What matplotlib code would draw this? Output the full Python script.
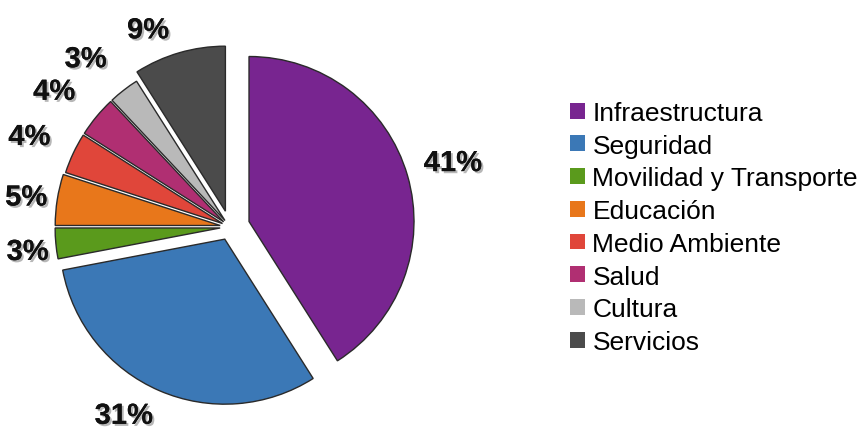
"""Pie chart of budget share by sector, with legend on the right."""
import matplotlib
matplotlib.use("Agg")
import matplotlib.pyplot as plt
import matplotlib.patheffects as pe
from matplotlib.patches import Patch

plt.rcParams.update({"font.family": ["Liberation Sans", "DejaVu Sans"]})

sectors = ["Infraestructura", "Seguridad", "Movilidad y Transporte", "Educación",
           "Medio Ambiente", "Salud", "Cultura", "Servicios"]
shares = [41, 31, 3, 5, 4, 4, 3, 9]
colors = ["#782590", "#3b78b6", "#5a9a1c", "#e8771b", "#e0463a", "#b02f72", "#b9b9b9", "#4b4b4b"]
explode = [0.12, 0.08, 0.06, 0.06, 0.05, 0.05, 0.05, 0.10]
# label nudges in pixels (right, down) from the default spot
label_nudge = [(20, -5), (-25, 1), (-2, 6), (-5, 2), (-20, -5), (-22, -8), (-22, -10), (-24, 3)]

R_PX = 165.0

fig = plt.figure(figsize=(8.65, 4.31), dpi=100)
ax = fig.add_axes([0.65 / 865, 0, 458.7 / 865, 1])

wedges, texts, autotexts = ax.pie(
    shares, colors=colors, explode=explode, startangle=90, counterclock=False,
    autopct="%d%%", pctdistance=1.16, radius=1.0,
    wedgeprops={"edgecolor": "#2a2a2a", "linewidth": 1.0},
    textprops={"fontsize": 21, "fontweight": "bold", "color": "#111111"},
)
for t, (dx, dy) in zip(autotexts, label_nudge):
    x, y = t.get_position()
    t.set_position((x + dx / R_PX, y - dy / R_PX))
    t.set_path_effects([pe.withSimplePatchShadow(offset=(1.5, -1.5), shadow_rgbFace="#888888", alpha=0.6),
                        pe.Normal()])

# centre of the pie about 228 px from the top
ax.set_xlim(-1.39, 1.39)
ax.set_ylim(-1.23, 1.382)
ax.set_aspect("auto")

handles = [Patch(facecolor=c, edgecolor="none") for c in colors]
fig.legend(handles, sectors, loc="upper left", bbox_to_anchor=(570 / 865, 1 - 102 / 431),
           frameon=False, fontsize=19, handlelength=0.55, handleheight=0.55,
           handletextpad=0.3, labelspacing=0.33, borderpad=0, borderaxespad=0)

fig.savefig("out.png", dpi=100)
